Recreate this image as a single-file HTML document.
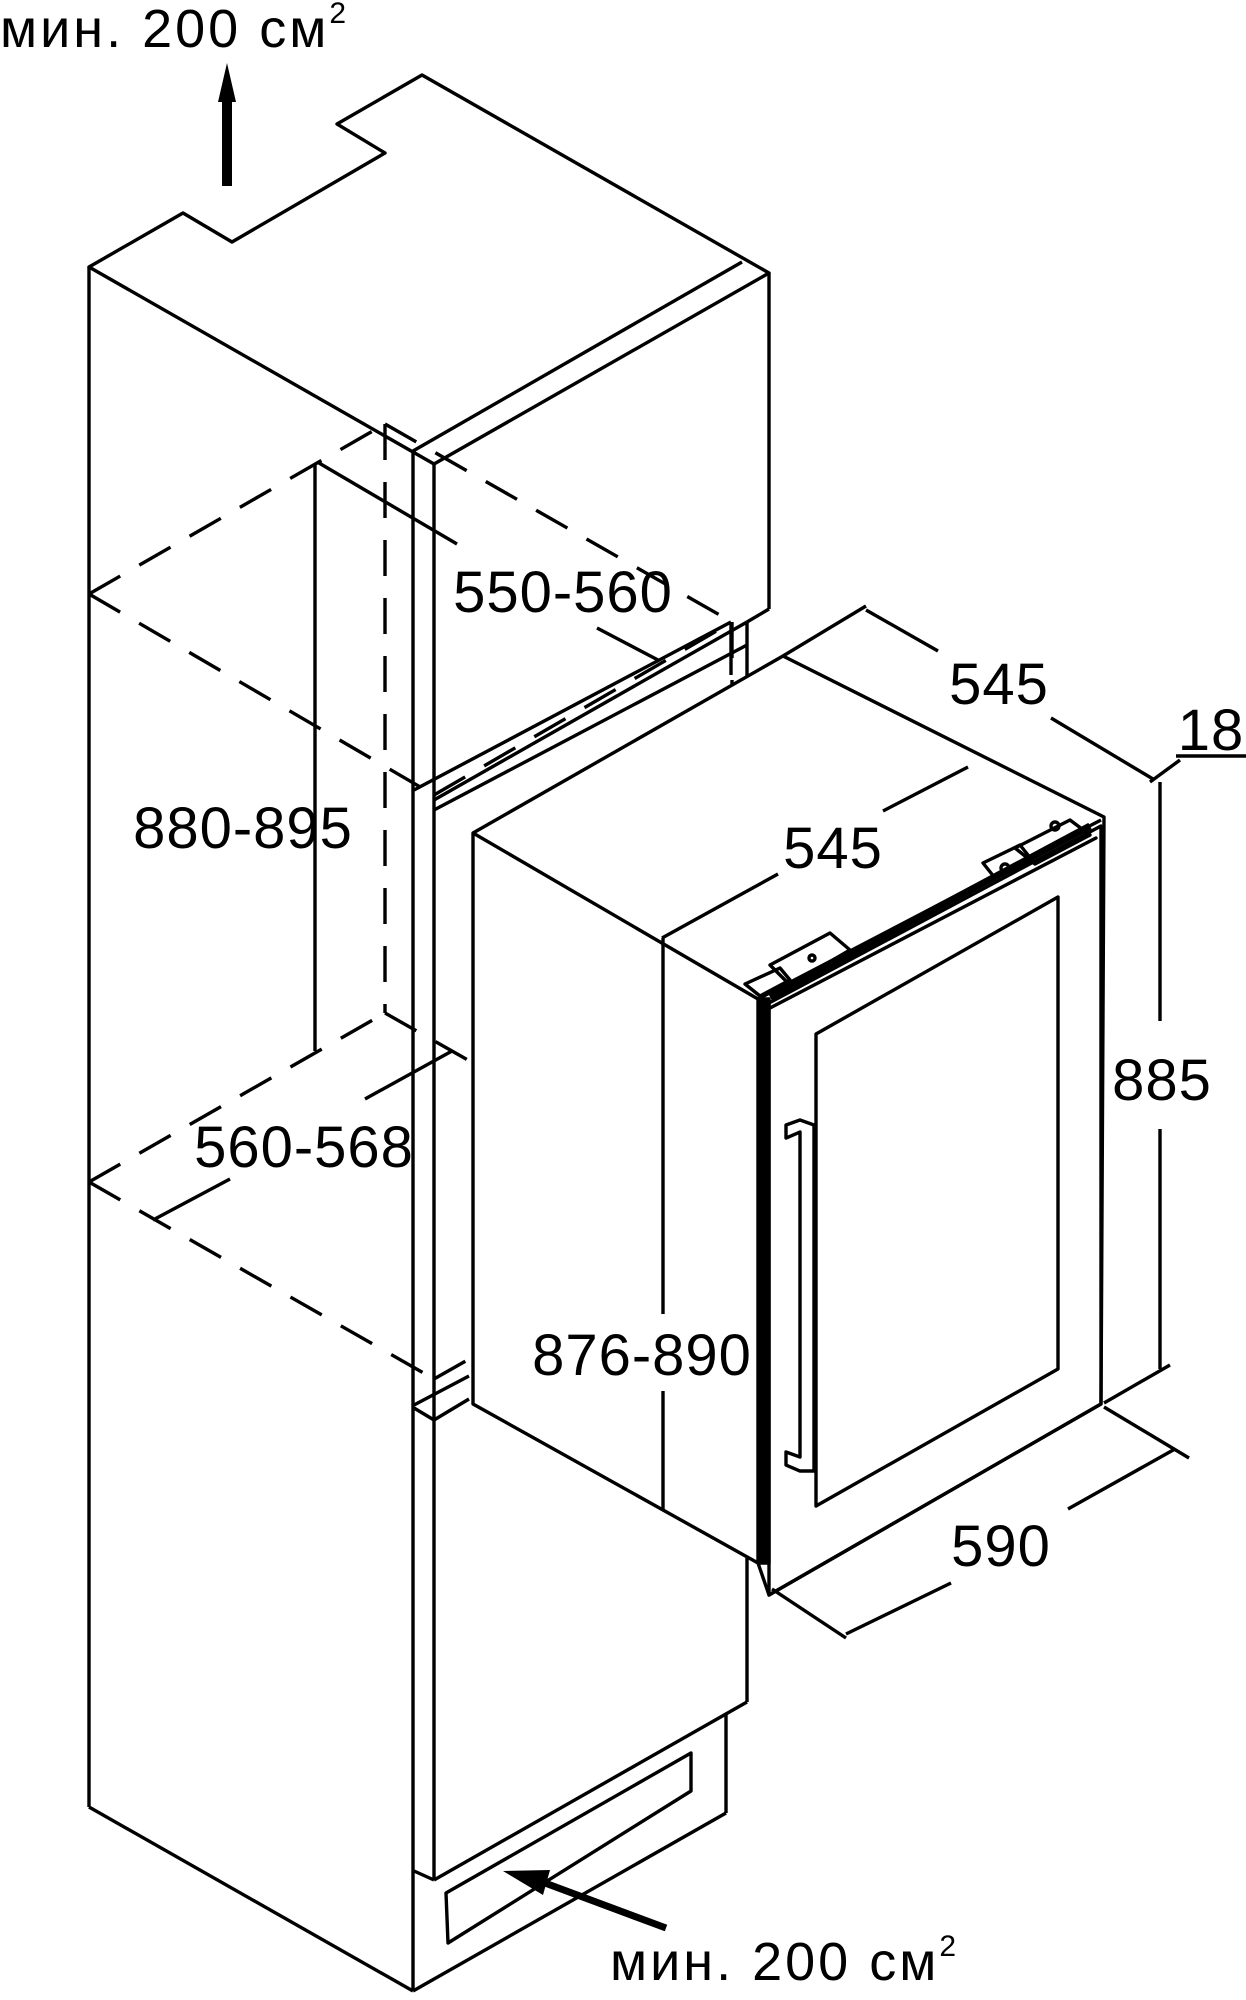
<!DOCTYPE html>
<html><head><meta charset="utf-8"><style>
html,body{margin:0;padding:0;background:#fff}
svg{display:block}
text{font-family:"Liberation Sans","DejaVu Sans",sans-serif;fill:#000}
</style></head><body>
<svg width="1246" height="2000" viewBox="0 0 1246 2000" xmlns="http://www.w3.org/2000/svg">
<g fill="none" stroke="#000" stroke-width="3.4" stroke-linejoin="round">
<polygon points="89,267 183,213 232,242 385,153 337,124 422,75 769,273 434,464" fill="#fff"/>
<line x1="742" y1="262" x2="413" y2="451"/>
<line x1="89" y1="267" x2="89" y2="1807"/>
<line x1="89" y1="1807" x2="413" y2="1991"/>
<line x1="413" y1="451" x2="413" y2="1991"/>
<line x1="434" y1="464" x2="434" y2="1880"/>
<line x1="769" y1="273" x2="769" y2="609"/>
<line x1="769" y1="609" x2="747" y2="622"/>
<line x1="434" y1="800" x2="747" y2="622"/>
<line x1="414" y1="790" x2="731" y2="622"/>
<line x1="434" y1="810" x2="747" y2="645"/>
<line x1="747" y1="622" x2="747" y2="1702"/>
<line x1="731" y1="622" x2="731" y2="675"/>
<line x1="414" y1="1405" x2="469" y2="1376"/>
<line x1="434" y1="1420" x2="469" y2="1399"/>
<line x1="414" y1="1408" x2="434" y2="1420"/>
<line x1="434" y1="1880" x2="747" y2="1702"/>
<line x1="414" y1="1871" x2="434" y2="1880"/>
<line x1="726" y1="1714" x2="726" y2="1813"/>
<line x1="413" y1="1991" x2="726" y2="1813"/>
<polygon points="446,1893 691,1753 691,1791 448,1943"/>
<g stroke-dasharray="36,22">
<line x1="89" y1="594" x2="385" y2="424"/>
<line x1="89" y1="594" x2="434" y2="795"/>
<line x1="385" y1="424" x2="732" y2="622"/>
<line x1="434" y1="795" x2="732" y2="622"/>
<line x1="385" y1="424" x2="385" y2="1013"/>
<line x1="732" y1="622" x2="732" y2="1210"/>
<line x1="89" y1="1182" x2="385" y2="1013"/>
<line x1="89" y1="1182" x2="434" y2="1379"/>
<line x1="385" y1="1013" x2="732" y2="1210"/>
<line x1="434" y1="1379" x2="732" y2="1210"/>
</g>
<polygon points="473,833 783,656 1104,817 1101,1404 769,1595 758,1563 473,1404" fill="#fff"/>
<line x1="473" y1="833" x2="758" y2="999"/>
<line x1="758" y1="999" x2="1101" y2="820"/>
<rect x="758" y="999" width="11" height="564" fill="#000"/>
<polygon points="769,1003 1101,826 1101,1404 769,1595"/>
<polygon points="816,1034 1058,897 1058,1369 816,1506"/>
<line x1="770" y1="997" x2="1090" y2="826" stroke-width="7"/>
<polygon points="770,1008 1096,838"/>
<polygon points="745,984 780,968 790,980 760,996"/>
<polygon points="770,965 830,933 850,950 790,985"/>
<polygon points="1015,848 1070,820 1090,835 1035,864"/>
<polygon points="983,863 1020,845 1032,860 995,878"/>
<circle cx="1055" cy="826" r="4"/><circle cx="1005" cy="868" r="4"/><circle cx="812" cy="958" r="3"/>
<polygon points="786,1125 800,1120 814,1125 814,1471 800,1471 786,1465 786,1452 800,1457 800,1132 786,1138"/>
<line x1="315" y1="464" x2="315" y2="1051"/>
<line x1="319" y1="463" x2="457" y2="544"/>
<line x1="597" y1="628" x2="658" y2="660"/>
<line x1="153" y1="1220" x2="230" y2="1179"/>
<line x1="365" y1="1099" x2="452" y2="1051"/>
<line x1="783" y1="656" x2="866" y2="606"/>
<line x1="866" y1="610" x2="938" y2="651"/>
<line x1="1051" y1="718" x2="1153" y2="779"/>
<line x1="662" y1="938" x2="778" y2="874"/>
<line x1="883" y1="811" x2="968" y2="767"/>
<line x1="663" y1="938" x2="663" y2="1314"/>
<line x1="663" y1="1391" x2="663" y2="1509"/>
<line x1="1176" y1="756" x2="1246" y2="756"/>
<line x1="1150" y1="782" x2="1180" y2="760"/>
<line x1="1160" y1="782" x2="1160" y2="1021"/>
<line x1="1160" y1="1129" x2="1160" y2="1369"/>
<line x1="1104" y1="1403" x2="1170" y2="1365"/>
<line x1="1104" y1="1407" x2="1189" y2="1458"/>
<line x1="1068" y1="1509" x2="1175" y2="1449"/>
<line x1="772" y1="1589" x2="846" y2="1638"/>
<line x1="846" y1="1634" x2="951" y2="1583"/>
</g>
<line x1="227" y1="186" x2="227" y2="100" stroke="#000" stroke-width="10"/>
<polygon points="227,63 218,102 236,102" fill="#000"/>
<line x1="545" y1="1883" x2="666" y2="1928" stroke="#000" stroke-width="7"/>
<polygon points="503,1871 550,1870 543,1895" fill="#000"/>
<text x="0" y="47" font-size="54" letter-spacing="3">мин. 200 см<tspan font-size="30" dy="-24">2</tspan></text>
<text x="610" y="1980" font-size="54" letter-spacing="3">мин. 200 см<tspan font-size="30" dy="-24">2</tspan></text>
<g font-size="58" text-anchor="middle" letter-spacing="1">
<text x="563" y="612">550-560</text>
<text x="243" y="848">880-895</text>
<text x="304" y="1167">560-568</text>
<text x="999" y="704">545</text>
<text x="833" y="868">545</text>
<text x="642" y="1375">876-890</text>
<text x="1162" y="1100">885</text>
<text x="1001" y="1566">590</text>
<text x="1211" y="750">18</text>
</g>
</svg>
</body></html>
